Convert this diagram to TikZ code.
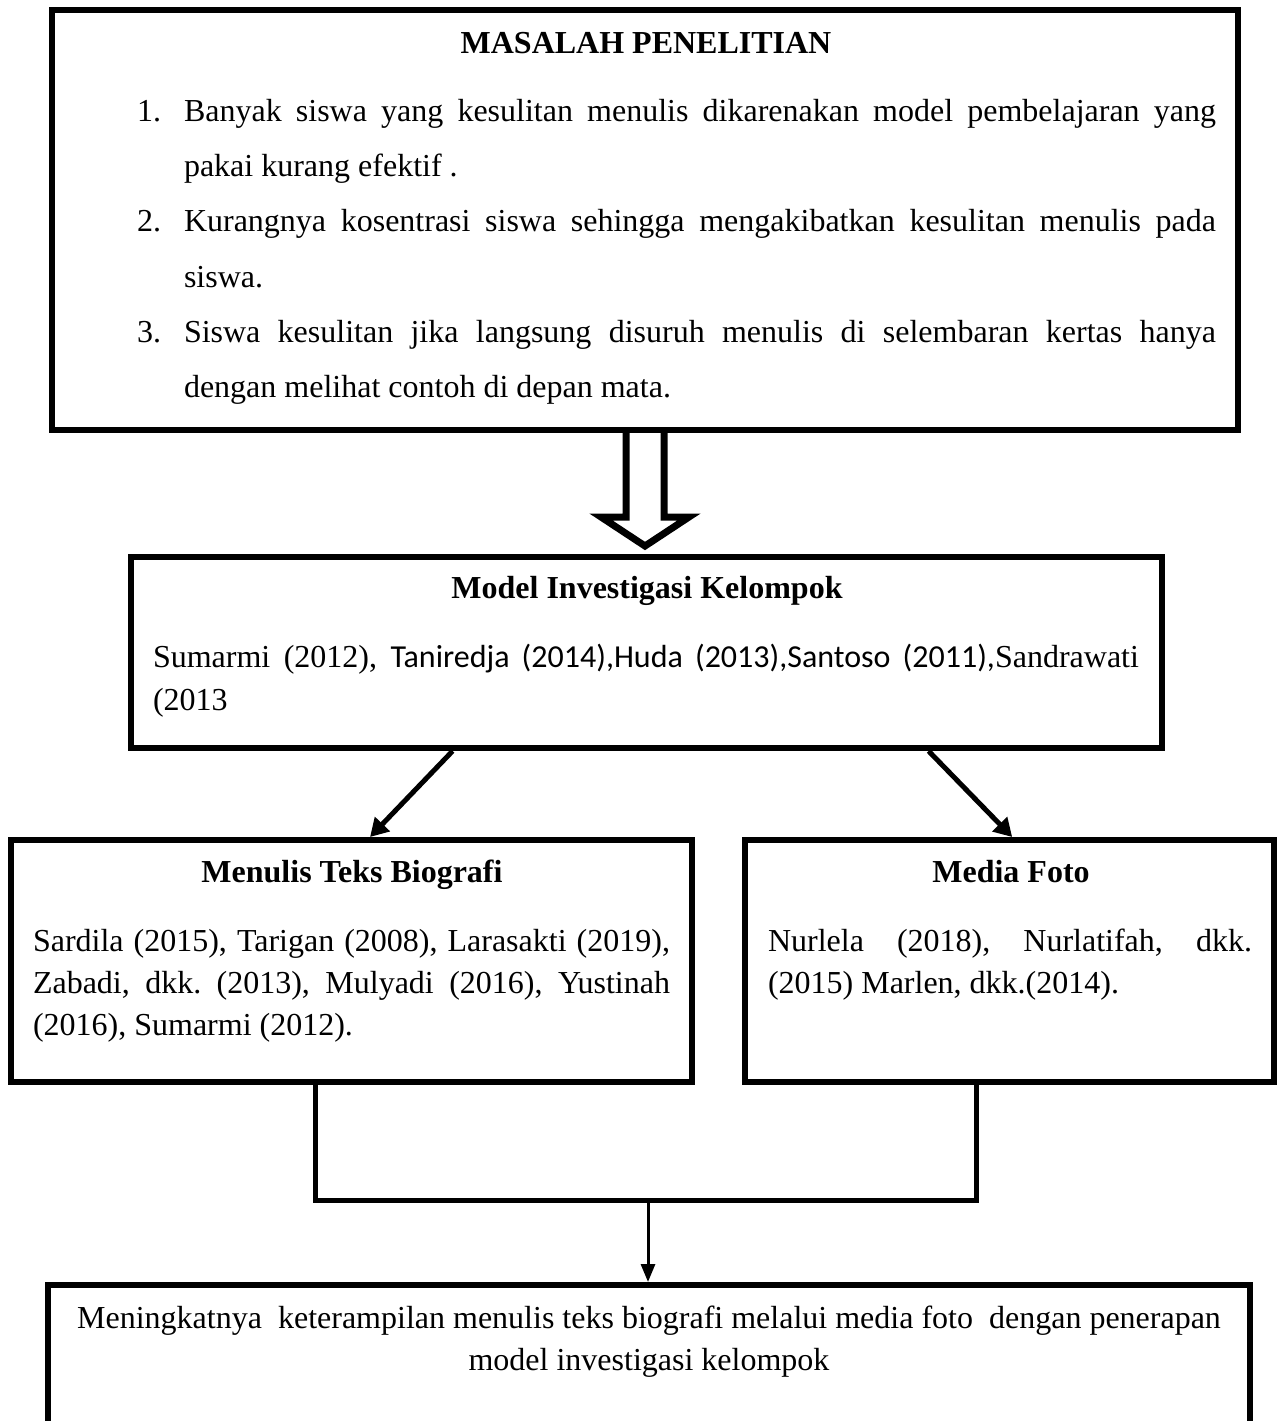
\documentclass[tikz,border=0pt]{standalone}
\usepackage{fontspec}
\setmainfont{Liberation Serif}
\newfontfamily\calibri{Carlito}
\usetikzlibrary{arrows.meta,calc}
\frenchspacing
\begin{document}
\begin{tikzpicture}[x=1pt,y=-1pt,
  box/.style={draw=black, line width=6pt, inner sep=0pt},
  txt/.style={inner sep=0pt, outer sep=0pt, font=\fontsize{32}{42}\selectfont},
  hd/.style={inner sep=0pt, outer sep=0pt, font=\fontsize{32}{42}\selectfont\bfseries},
  conn/.style={line width=5pt, line join=miter},
  arr/.style={line width=5pt, -{Triangle[length=18pt,width=20pt]}},
  arrthin/.style={line width=3pt, -{Triangle[length=18pt,width=14pt]}},
  hollow/.style={line width=7pt, line join=miter, miter limit=10},
]
\useasboundingbox (0,0) rectangle (1277,1421);
\clip (0,0) rectangle (1277,1421);

% boxes
\node[box, minimum width=1186pt, minimum height=420pt] (top) at (645,220) {};
\node[box, minimum width=1031pt, minimum height=191pt] (model) at (646.5,652.5) {};
\node[box, minimum width=681pt, minimum height=242pt] (bio) at (351.5,961) {};
\node[box, minimum width=529pt, minimum height=242pt] (media) at (1009.5,961) {};
\node[box, minimum width=1202pt, minimum height=180pt] (goal) at (649,1375) {};

% top box text
\node[hd, anchor=base] (ttitle) at (646,53) {MASALAH PENELITIAN};
\node[txt, anchor=base west] (n1) at (137,121) {1.};
\node[txt, anchor=base west] (l1) at (184,121) {\makebox[1032pt][s]{Banyak siswa yang kesulitan menulis dikarenakan model pembelajaran yang}};
\node[txt, anchor=base west] (l2) at (184,176) {pakai kurang efektif .};
\node[txt, anchor=base west] (n2) at (137,231) {2.};
\node[txt, anchor=base west] (l3) at (184,231) {\makebox[1032pt][s]{Kurangnya kosentrasi siswa sehingga mengakibatkan kesulitan menulis pada}};
\node[txt, anchor=base west] (l4) at (184,287) {siswa.};
\node[txt, anchor=base west] (n3) at (137,342) {3.};
\node[txt, anchor=base west] (l5) at (184,342) {\makebox[1032pt][s]{Siswa kesulitan jika langsung disuruh menulis di selembaran kertas hanya}};
\node[txt, anchor=base west] (l6) at (184,397) {dengan melihat contoh di depan mata.};

% model box text
\node[hd, anchor=base] (mtitle) at (647,598) {Model Investigasi Kelompok};
\node[txt, anchor=base west] (m1) at (153,667) {\makebox[986pt][s]{Sumarmi (2012), {\calibri Taniredja (2014),Huda (2013),Santoso (2011),}Sandrawati}};
\node[txt, anchor=base west] (m2) at (153,710) {(2013};

% bio box text
\node[hd, anchor=base] (btitle) at (352,882) {Menulis Teks Biografi};
\node[txt, anchor=base west] (b1t) at (33,951) {\makebox[637pt][s]{Sardila (2015), Tarigan (2008), Larasakti (2019),}};
\node[txt, anchor=base west] (b2t) at (33,993) {\makebox[637pt][s]{Zabadi, dkk. (2013), Mulyadi (2016), Yustinah}};
\node[txt, anchor=base west] (b3t) at (33,1035) {(2016), Sumarmi (2012).};

% media box text
\node[hd, anchor=base] (ftitle) at (1011,882) {Media Foto};
\node[txt, anchor=base west] (f1t) at (768,951) {\makebox[484pt][s]{Nurlela (2018), Nurlatifah, dkk.}};
\node[txt, anchor=base west] (f2t) at (768,993) {(2015) Marlen, dkk.(2014).};

% goal box text
\node[txt, anchor=base] (g1t) at (649,1328) {Meningkatnya\ \ keterampilan menulis teks biografi melalui media foto\ \ dengan penerapan};
\node[txt, anchor=base] (g2t) at (649,1370) {model investigasi kelompok};

% hollow arrow from top box to model box
\coordinate (hs) at (top.south);
\draw[hollow] ($(hs)+(-19,-3)$) -- ++(0,87) -- ++(-25,0) -- ++(44,29) -- ++(44,-29) -- ++(-25,0) -- ++(0,-87);

% diagonal arrows
\draw[arr] ($(model.south west)!0.313!(model.south east)$) -- ($(bio.north west)!0.527!(bio.north east)$);
\draw[arr] ($(model.south west)!0.772!(model.south east)$) -- ($(media.north west)!0.505!(media.north east)$);

% joining connector
\coordinate (b1) at ($(bio.south west)!0.447!(bio.south east)$);
\coordinate (m1c) at ($(media.south west)!0.439!(media.south east)$);
\coordinate (jn) at (648,1200);
\draw[conn] (b1) |- (jn) -| (m1c);
\draw[arrthin] (jn) -- (jn |- goal.north);
\end{tikzpicture}
\end{document}
